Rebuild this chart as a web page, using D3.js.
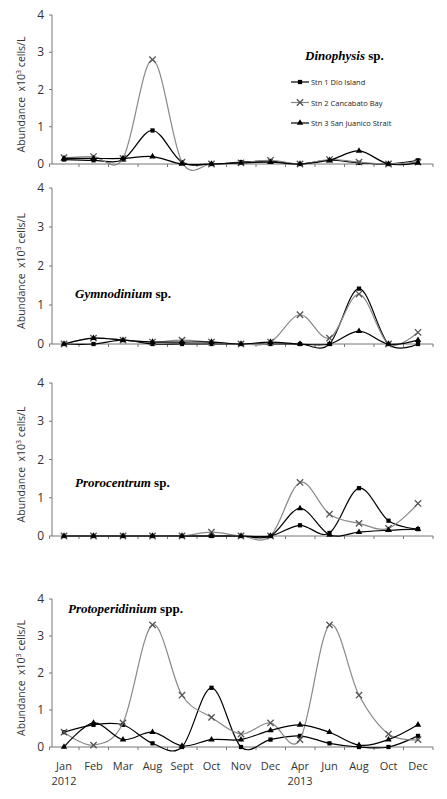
<!DOCTYPE html>
<html>
<head>
<meta charset="utf-8">
<script src="https://d3js.org/d3.v7.min.js"></script>
<style>body{margin:0;background:#fff}</style>
</head>
<body>
<div id="chart"></div>
<script>
var months = ["Jan","Feb","Mar","Aug","Sept","Oct","Nov","Dec","Apr","Jun","Aug","Oct","Dec"];
var years = {0:"2012", 8:"2013"};
var stations = ["Stn 1 Dio Island","Stn 2 Cancabato Bay","Stn 3 San Juanico Strait"];

var dinoS1 = [0.12,0.1,0.12,0.9,0.05,0,0.05,0.08,0,0.1,0.03,0,0.1];
var dinoS2 = [0.17,0.2,0.15,2.8,0.05,0,0.03,0.1,0,0.12,0.05,0,0.05];
var dinoS3 = [0.15,0.15,0.15,0.2,0,0,0.03,0.05,0,0.1,0.35,0,0.03];

var gymnoS1 = [0,0,0.1,0,0,0,0,0,0,0,1.42,0,0];
var gymnoS2 = [0,0.15,0.1,0.05,0.1,0.05,0,0.05,0.75,0.15,1.28,0,0.3];
var gymnoS3 = [0,0.15,0.1,0.05,0.05,0.05,0,0.05,0,0,0.33,0,0.1];

var proroS1 = [0,0,0,0,0,0,0,0,0.28,0.08,1.25,0.4,0.18];
var proroS2 = [0,0,0,0,0,0.1,0,0,1.4,0.57,0.33,0.2,0.85];
var proroS3 = [0,0,0,0,0,0,0,0,0.72,0.03,0.1,0.15,0.18];

var protoS1 = [0.4,0.6,0.6,0.1,0,1.6,0,0.2,0.3,0.1,0,0,0.3];
var protoS2 = [0.4,0.05,0.65,3.3,1.4,0.8,0.35,0.65,0.2,3.3,1.4,0.35,0.2];
var protoS3 = [0,0.65,0.2,0.4,0.03,0.2,0.2,0.45,0.6,0.4,0.05,0.2,0.6];

var panels = [
  {name:"Dinophysis", suf:" sp.", series:[dinoS1,dinoS2,dinoS3], top:15, bottom:164, tx:305, ty:60, legend:true},
  {name:"Gymnodinium", suf:" sp.", series:[gymnoS1,gymnoS2,gymnoS3], top:188, bottom:344, tx:75, ty:298},
  {name:"Prorocentrum", suf:" sp.", series:[proroS1,proroS2,proroS3], top:383, bottom:536, tx:75, ty:487},
  {name:"Protoperidinium", suf:" spp.", series:[protoS1,protoS2,protoS3], top:599, bottom:747, tx:68, ty:613, labels:true}
];

var W = 447, H = 799;
var svg = d3.select("#chart").append("svg").attr("width", W).attr("height", H)
  .style("font-family","'Open Sans', sans-serif");

var x = d3.scalePoint().domain(d3.range(months.length)).range([64, 418]);
var colors = ["#000", "#888", "#000"];
var sym = [d3.symbolSquare, d3.symbolTimes, d3.symbolTriangle];

function marker(sel, k) {
  sel.attr("d", d3.symbol().type(sym[k]).size(k==1 ? 28 : 18))
    .attr("fill", k==1 ? "none" : "#000").attr("stroke", k==1 ? "#555" : "none").attr("stroke-width",1.3);
}

panels.forEach(function(p) {
  var y = d3.scaleLinear().domain([0,4]).range([p.bottom, p.top]);
  var g = svg.append("g");
  g.append("line").attr("x1",52).attr("x2",52).attr("y1",y(4)).attr("y2",y(0)).attr("stroke","#777");
  [0,1,2,3,4].forEach(function(t) {
    g.append("line").attr("x1",49).attr("x2",52).attr("y1",y(t)).attr("y2",y(t)).attr("stroke","#777");
    g.append("text").attr("x",44).attr("y",y(t)+4).attr("text-anchor","end")
      .attr("font-size",12).attr("fill","#333").text(t);
  });
  g.append("line").attr("x1",52).attr("x2",433).attr("y1",y(0)).attr("y2",y(0)).attr("stroke","#777");
  d3.range(months.length + 1).forEach(function(i) {
    var xx = 49.5 + i * 29.5;
    g.append("line").attr("x1",xx).attr("x2",xx).attr("y1",y(0)).attr("y2",y(0)+3).attr("stroke","#777");
  });
  g.append("text").attr("transform","translate(25," + ((y(4)+y(0))/2 + 5) + ") rotate(-90)")
    .attr("text-anchor","middle").attr("font-size",10.5).attr("fill","#333")
    .html("Abundance &#160;x10<tspan dy='-4' font-size='7'>3</tspan><tspan dy='4'> cells/L</tspan>");
  var t = g.append("text").attr("x",p.tx).attr("y",p.ty)
    .attr("font-family","'Liberation Serif', serif").attr("font-weight","bold").attr("font-size",13);
  t.append("tspan").attr("font-style","italic").text(p.name);
  t.append("tspan").text(p.suf);

  var line = d3.line().x(function(d,i){ return x(i); }).y(function(d){ return y(d); })
    .curve(d3.curveCatmullRom.alpha(0));
  p.series.forEach(function(s, k) {
    g.append("path").datum(s).attr("d", line).attr("fill","none")
      .attr("stroke", colors[k]).attr("stroke-width", 1.2);
    g.selectAll(null).data(s).enter().append("path")
      .attr("transform", function(d,i){ return "translate(" + x(i) + "," + y(d) + ")"; })
      .call(marker, k);
  });

  if (p.legend) {
    stations.forEach(function(s, k) {
      var ly = 82 + k * 20.5;
      g.append("line").attr("x1",291).attr("x2",309).attr("y1",ly).attr("y2",ly).attr("stroke",colors[k]).attr("stroke-width",1.2);
      g.append("path").attr("transform","translate(300," + ly + ")").call(marker, k);
      g.append("text").attr("x",311).attr("y",ly+3).attr("font-size",7.5).attr("fill","#222").text(s);
    });
  }

  if (p.labels) {
    months.forEach(function(m, i) {
      g.append("text").attr("x",x(i)).attr("y",770).attr("text-anchor","middle")
        .attr("font-size",11).attr("fill","#333").text(m);
      if (years[i]) g.append("text").attr("x",x(i)).attr("y",785).attr("text-anchor","middle")
        .attr("font-size",11).attr("fill","#333").text(years[i]);
    });
  }
});
</script>
</body>
</html>
